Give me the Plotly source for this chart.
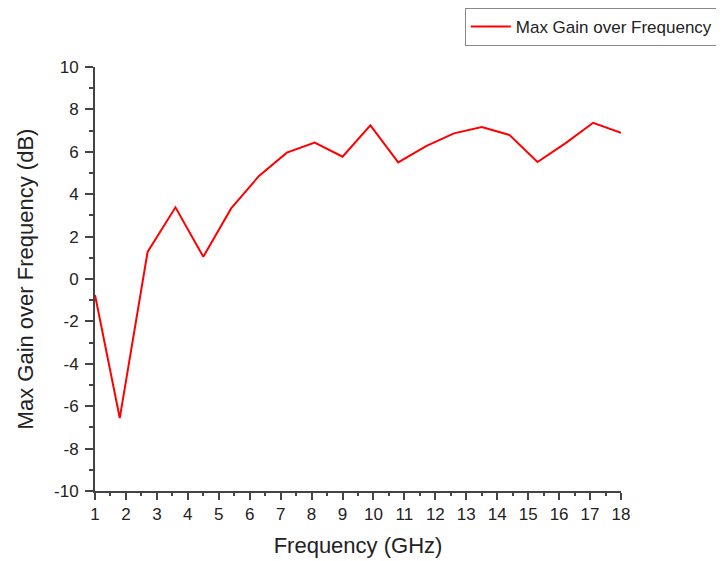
import plotly.graph_objects as go

freq_ghz = [1.0, 1.8, 2.7, 3.6, 4.5, 5.4, 6.3, 7.2, 8.1, 9.0, 9.9, 10.8,
            11.7, 12.6, 13.5, 14.4, 15.3, 16.2, 17.1, 18.0]
max_gain_db = [-0.75, -6.56, 1.28, 3.38, 1.05, 3.33, 4.86, 5.96, 6.43, 5.77, 7.25, 5.5,
               6.27, 6.87, 7.17, 6.79, 5.52, 6.4, 7.37, 6.9]
x_ticks = list(range(1, 19))
y_ticks = list(range(-10, 11, 2))
y_tick_labels = [str(v) for v in y_ticks]
series_name = "Max Gain over Frequency"

FONT = "Liberation Sans, Arial"
fig = go.Figure()
fig.add_trace(go.Scatter(x=freq_ghz, y=max_gain_db, mode="lines", name=series_name,
                         line=dict(color="#ff0000", width=2), showlegend=True))

axis_common = dict(showline=True, linecolor="#444444", linewidth=2, ticks="outside",
                   tickwidth=2, tickcolor="#444444", showgrid=False,
                   zeroline=False, mirror=False,
                   tickfont=dict(family=FONT, size=17, color="#222222"),
                   title_font=dict(family=FONT, size=22, color="#222222"))

fig.update_layout(
    width=724, height=561,
    margin=dict(l=87, r=111, t=59, b=78, autoexpand=False),
    paper_bgcolor="white", plot_bgcolor="white",
    showlegend=True,
    legend=dict(x=0.703, xanchor="left", y=1.139, yanchor="top", xref="paper", yref="paper",
                bordercolor="#888888", borderwidth=1, bgcolor="white",
                font=dict(family=FONT, size=17, color="#222222"),
                tracegroupgap=0, itemwidth=40),
    xaxis=dict(range=[1, 18], tickvals=x_ticks, ticklen=7,
               title=dict(text="Frequency (GHz)", standoff=14),
               minor=dict(ticks="outside", ticklen=3, tickwidth=2, tickcolor="#444444", dtick=0.5),
               **axis_common),
    yaxis=dict(range=[-10, 10], tickvals=y_ticks, ticktext=y_tick_labels, ticklen=8,
               ticklabelstandoff=3,
               title=dict(text="Max Gain over Frequency (dB)", standoff=14),
               minor=dict(ticks="outside", ticklen=4, tickwidth=2, tickcolor="#444444", dtick=1),
               **axis_common),
)
fig.write_html("out.html")
